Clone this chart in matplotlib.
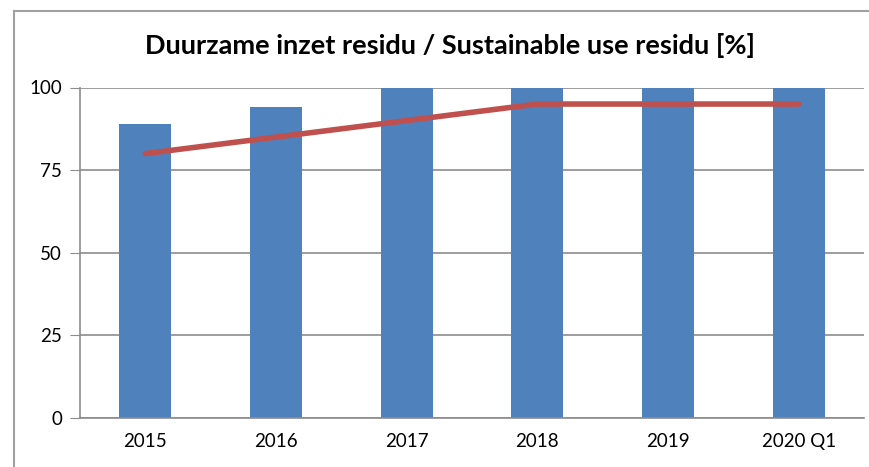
import matplotlib
matplotlib.use("Agg")
import matplotlib.pyplot as plt
from matplotlib.lines import Line2D

categories = ["2015", "2016", "2017", "2018", "2019", "2020 Q1"]
realised = [89, 94, 100, 100, 100, 100]
target = [80, 85, 90, 95, 95, 95]
yticks = [0, 25, 50, 75, 100]

W, H = 869, 467
fig = plt.figure(figsize=(W / 100, H / 100), dpi=100)
plt.rcParams['font.family'] = ['Lato', 'DejaVu Sans']

ax = fig.add_axes([80 / W, 1 - 418 / H, (864 - 80) / W, (418 - 87.5) / H])
x = list(range(len(categories)))
ax.bar(x, realised, width=0.4, color="#4F81BD", zorder=2)
ax.plot(x, target, color="#C0504D", linewidth=4, solid_capstyle="round", zorder=3)

ax.set_xlim(-0.5, len(categories) - 0.5)
ax.set_ylim(0, 100)
ax.set_yticks(yticks)
ax.set_yticklabels([str(t) for t in yticks], fontsize=13.5)
ax.set_xticks(x)
ax.set_xticklabels(categories, fontsize=13.5)
ax.yaxis.grid(True, color="#8C8C8C", linewidth=1.2, zorder=0)
ax.set_axisbelow(True)
for s in ["top", "right"]:
    ax.spines[s].set_visible(False)
ax.spines["left"].set_color("#8C8C8C")
ax.spines["bottom"].set_color("#8C8C8C")
ax.spines["left"].set_linewidth(1.2)
ax.spines["bottom"].set_linewidth(1.2)
ax.tick_params(axis="y", length=7, color="#8C8C8C", pad=6)
ax.tick_params(axis="x", length=0, pad=11)

fig.text(450 / W, 1 - 45 / H, "Duurzame inzet residu / Sustainable use residu [%]",
         ha="center", va="center", fontsize=19.5, fontweight="bold")

ytop = 1 - 10.5 / H
xl = 14 / W
fig.add_artist(Line2D([xl, 1.0], [ytop, ytop], transform=fig.transFigure,
                      color="#A0A0A0", linewidth=1.5))
fig.add_artist(Line2D([xl, xl], [0.0, ytop], transform=fig.transFigure,
                      color="#A0A0A0", linewidth=1.5))

fig.savefig("out.png", dpi=100)
